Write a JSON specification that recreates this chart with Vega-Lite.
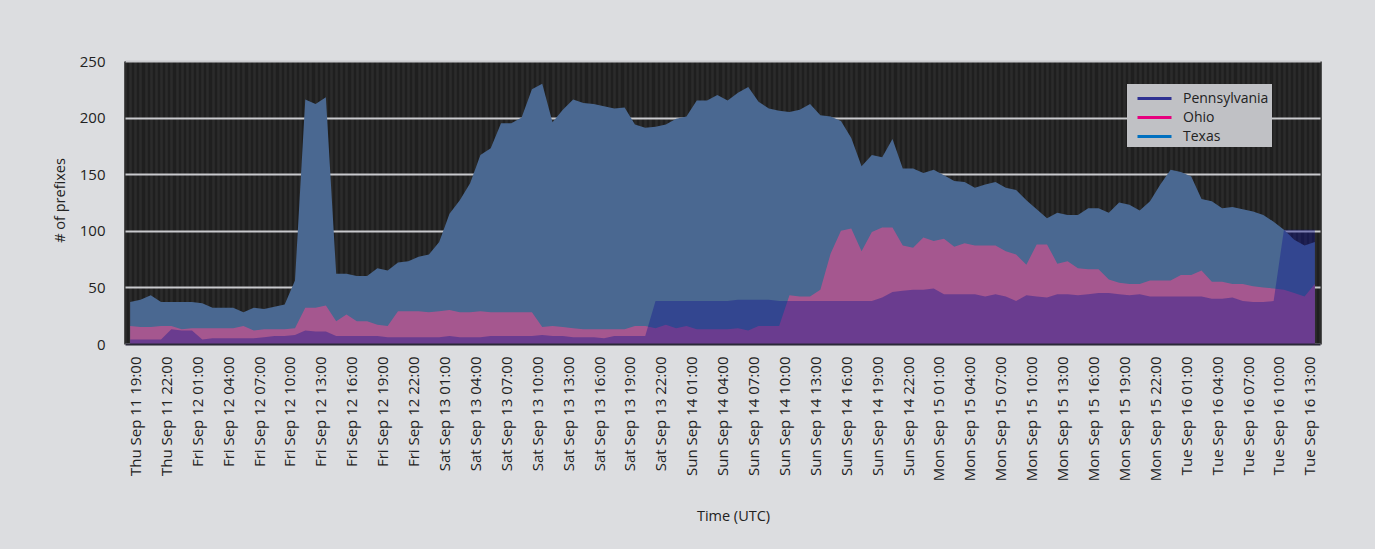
{
  "$schema": "https://vega.github.io/schema/vega-lite/v6.json",
  "width": 1195,
  "height": 283,
  "autosize": {"type": "none"},
  "padding": {"left": 125, "top": 61, "right": 55, "bottom": 205},
  "background": "#dcdde0",
  "config": {
    "view": {"fill": "#1f1f1f", "stroke": null},
    "font": "Open Sans",
    "axis": {"labelFont": "Open Sans", "titleFont": "Open Sans"},
    "axisY": {
      "tickCount": 5, "grid": true, "gridColor": "#c9cacd", "gridWidth": 2,
      "domain": false, "ticks": false,
      "labelPadding": 20, "labelFontSize": 15, "labelColor": "#222222",
      "titleFontSize": 14.5, "titleFontWeight": "normal", "titleColor": "#222222",
      "titleX": -65, "titleY": 139, "titleAngle": 270, "titleBaseline": "middle", "titleAlign": "center",
      "zindex": 1
    },
    "legend": {"labelFont": "Open Sans"}
  },
  "data": {"values": [
    {"t":"2014-09-11T18:00Z","Pennsylvania":4,"Ohio":16,"Texas":37},
    {"t":"2014-09-11T19:00Z","Pennsylvania":4,"Ohio":15,"Texas":39},
    {"t":"2014-09-11T20:00Z","Pennsylvania":4,"Ohio":15,"Texas":43},
    {"t":"2014-09-11T21:00Z","Pennsylvania":4,"Ohio":16,"Texas":37},
    {"t":"2014-09-11T22:00Z","Pennsylvania":13,"Ohio":16,"Texas":37},
    {"t":"2014-09-11T23:00Z","Pennsylvania":12,"Ohio":13,"Texas":37},
    {"t":"2014-09-12T00:00Z","Pennsylvania":12,"Ohio":14,"Texas":37},
    {"t":"2014-09-12T01:00Z","Pennsylvania":4,"Ohio":14,"Texas":36},
    {"t":"2014-09-12T02:00Z","Pennsylvania":5,"Ohio":14,"Texas":32},
    {"t":"2014-09-12T03:00Z","Pennsylvania":5,"Ohio":14,"Texas":32},
    {"t":"2014-09-12T04:00Z","Pennsylvania":5,"Ohio":14,"Texas":32},
    {"t":"2014-09-12T05:00Z","Pennsylvania":5,"Ohio":16,"Texas":28},
    {"t":"2014-09-12T06:00Z","Pennsylvania":5,"Ohio":12,"Texas":32},
    {"t":"2014-09-12T07:00Z","Pennsylvania":6,"Ohio":13,"Texas":31},
    {"t":"2014-09-12T08:00Z","Pennsylvania":7,"Ohio":13,"Texas":33},
    {"t":"2014-09-12T09:00Z","Pennsylvania":7,"Ohio":13,"Texas":35},
    {"t":"2014-09-12T10:00Z","Pennsylvania":8,"Ohio":14,"Texas":56},
    {"t":"2014-09-12T11:00Z","Pennsylvania":12,"Ohio":32,"Texas":216},
    {"t":"2014-09-12T12:00Z","Pennsylvania":11,"Ohio":32,"Texas":212},
    {"t":"2014-09-12T13:00Z","Pennsylvania":11,"Ohio":34,"Texas":218},
    {"t":"2014-09-12T14:00Z","Pennsylvania":7,"Ohio":20,"Texas":62},
    {"t":"2014-09-12T15:00Z","Pennsylvania":7,"Ohio":26,"Texas":62},
    {"t":"2014-09-12T16:00Z","Pennsylvania":7,"Ohio":20,"Texas":60},
    {"t":"2014-09-12T17:00Z","Pennsylvania":7,"Ohio":20,"Texas":60},
    {"t":"2014-09-12T18:00Z","Pennsylvania":7,"Ohio":17,"Texas":67},
    {"t":"2014-09-12T19:00Z","Pennsylvania":6,"Ohio":16,"Texas":65},
    {"t":"2014-09-12T20:00Z","Pennsylvania":6,"Ohio":29,"Texas":72},
    {"t":"2014-09-12T21:00Z","Pennsylvania":6,"Ohio":29,"Texas":73},
    {"t":"2014-09-12T22:00Z","Pennsylvania":6,"Ohio":29,"Texas":77},
    {"t":"2014-09-12T23:00Z","Pennsylvania":6,"Ohio":28,"Texas":79},
    {"t":"2014-09-13T00:00Z","Pennsylvania":6,"Ohio":29,"Texas":90},
    {"t":"2014-09-13T01:00Z","Pennsylvania":7,"Ohio":30,"Texas":115},
    {"t":"2014-09-13T02:00Z","Pennsylvania":6,"Ohio":28,"Texas":127},
    {"t":"2014-09-13T03:00Z","Pennsylvania":6,"Ohio":28,"Texas":142},
    {"t":"2014-09-13T04:00Z","Pennsylvania":6,"Ohio":29,"Texas":167},
    {"t":"2014-09-13T05:00Z","Pennsylvania":7,"Ohio":28,"Texas":173},
    {"t":"2014-09-13T06:00Z","Pennsylvania":7,"Ohio":28,"Texas":195},
    {"t":"2014-09-13T07:00Z","Pennsylvania":7,"Ohio":28,"Texas":195},
    {"t":"2014-09-13T08:00Z","Pennsylvania":7,"Ohio":28,"Texas":200},
    {"t":"2014-09-13T09:00Z","Pennsylvania":7,"Ohio":28,"Texas":225},
    {"t":"2014-09-13T10:00Z","Pennsylvania":8,"Ohio":15,"Texas":230},
    {"t":"2014-09-13T11:00Z","Pennsylvania":7,"Ohio":16,"Texas":196},
    {"t":"2014-09-13T12:00Z","Pennsylvania":7,"Ohio":15,"Texas":207},
    {"t":"2014-09-13T13:00Z","Pennsylvania":6,"Ohio":14,"Texas":216},
    {"t":"2014-09-13T14:00Z","Pennsylvania":6,"Ohio":13,"Texas":213},
    {"t":"2014-09-13T15:00Z","Pennsylvania":6,"Ohio":13,"Texas":212},
    {"t":"2014-09-13T16:00Z","Pennsylvania":5,"Ohio":13,"Texas":210},
    {"t":"2014-09-13T17:00Z","Pennsylvania":7,"Ohio":13,"Texas":208},
    {"t":"2014-09-13T18:00Z","Pennsylvania":7,"Ohio":13,"Texas":209},
    {"t":"2014-09-13T19:00Z","Pennsylvania":7,"Ohio":16,"Texas":194},
    {"t":"2014-09-13T20:00Z","Pennsylvania":7,"Ohio":16,"Texas":191},
    {"t":"2014-09-13T21:00Z","Pennsylvania":38,"Ohio":14,"Texas":192},
    {"t":"2014-09-13T22:00Z","Pennsylvania":38,"Ohio":17,"Texas":194},
    {"t":"2014-09-13T23:00Z","Pennsylvania":38,"Ohio":14,"Texas":199},
    {"t":"2014-09-14T00:00Z","Pennsylvania":38,"Ohio":16,"Texas":201},
    {"t":"2014-09-14T01:00Z","Pennsylvania":38,"Ohio":13,"Texas":215},
    {"t":"2014-09-14T02:00Z","Pennsylvania":38,"Ohio":13,"Texas":215},
    {"t":"2014-09-14T03:00Z","Pennsylvania":38,"Ohio":13,"Texas":220},
    {"t":"2014-09-14T04:00Z","Pennsylvania":38,"Ohio":13,"Texas":215},
    {"t":"2014-09-14T05:00Z","Pennsylvania":39,"Ohio":14,"Texas":222},
    {"t":"2014-09-14T06:00Z","Pennsylvania":39,"Ohio":12,"Texas":227},
    {"t":"2014-09-14T07:00Z","Pennsylvania":39,"Ohio":16,"Texas":214},
    {"t":"2014-09-14T08:00Z","Pennsylvania":39,"Ohio":16,"Texas":208},
    {"t":"2014-09-14T09:00Z","Pennsylvania":38,"Ohio":16,"Texas":206},
    {"t":"2014-09-14T10:00Z","Pennsylvania":38,"Ohio":43,"Texas":205},
    {"t":"2014-09-14T11:00Z","Pennsylvania":38,"Ohio":42,"Texas":207},
    {"t":"2014-09-14T12:00Z","Pennsylvania":38,"Ohio":42,"Texas":212},
    {"t":"2014-09-14T13:00Z","Pennsylvania":38,"Ohio":48,"Texas":202},
    {"t":"2014-09-14T14:00Z","Pennsylvania":38,"Ohio":80,"Texas":201},
    {"t":"2014-09-14T15:00Z","Pennsylvania":38,"Ohio":100,"Texas":197},
    {"t":"2014-09-14T16:00Z","Pennsylvania":38,"Ohio":102,"Texas":182},
    {"t":"2014-09-14T17:00Z","Pennsylvania":38,"Ohio":82,"Texas":157},
    {"t":"2014-09-14T18:00Z","Pennsylvania":38,"Ohio":99,"Texas":167},
    {"t":"2014-09-14T19:00Z","Pennsylvania":41,"Ohio":103,"Texas":165},
    {"t":"2014-09-14T20:00Z","Pennsylvania":46,"Ohio":103,"Texas":181},
    {"t":"2014-09-14T21:00Z","Pennsylvania":47,"Ohio":87,"Texas":155},
    {"t":"2014-09-14T22:00Z","Pennsylvania":48,"Ohio":85,"Texas":155},
    {"t":"2014-09-14T23:00Z","Pennsylvania":48,"Ohio":94,"Texas":151},
    {"t":"2014-09-15T00:00Z","Pennsylvania":49,"Ohio":91,"Texas":154},
    {"t":"2014-09-15T01:00Z","Pennsylvania":44,"Ohio":93,"Texas":149},
    {"t":"2014-09-15T02:00Z","Pennsylvania":44,"Ohio":86,"Texas":144},
    {"t":"2014-09-15T03:00Z","Pennsylvania":44,"Ohio":89,"Texas":143},
    {"t":"2014-09-15T04:00Z","Pennsylvania":44,"Ohio":87,"Texas":138},
    {"t":"2014-09-15T05:00Z","Pennsylvania":42,"Ohio":87,"Texas":141},
    {"t":"2014-09-15T06:00Z","Pennsylvania":44,"Ohio":87,"Texas":143},
    {"t":"2014-09-15T07:00Z","Pennsylvania":42,"Ohio":82,"Texas":138},
    {"t":"2014-09-15T08:00Z","Pennsylvania":38,"Ohio":79,"Texas":136},
    {"t":"2014-09-15T09:00Z","Pennsylvania":43,"Ohio":70,"Texas":127},
    {"t":"2014-09-15T10:00Z","Pennsylvania":42,"Ohio":88,"Texas":119},
    {"t":"2014-09-15T11:00Z","Pennsylvania":41,"Ohio":88,"Texas":111},
    {"t":"2014-09-15T12:00Z","Pennsylvania":44,"Ohio":71,"Texas":116},
    {"t":"2014-09-15T13:00Z","Pennsylvania":44,"Ohio":73,"Texas":114},
    {"t":"2014-09-15T14:00Z","Pennsylvania":43,"Ohio":67,"Texas":114},
    {"t":"2014-09-15T15:00Z","Pennsylvania":44,"Ohio":66,"Texas":120},
    {"t":"2014-09-15T16:00Z","Pennsylvania":45,"Ohio":66,"Texas":120},
    {"t":"2014-09-15T17:00Z","Pennsylvania":45,"Ohio":57,"Texas":116},
    {"t":"2014-09-15T18:00Z","Pennsylvania":44,"Ohio":54,"Texas":125},
    {"t":"2014-09-15T19:00Z","Pennsylvania":43,"Ohio":53,"Texas":123},
    {"t":"2014-09-15T20:00Z","Pennsylvania":44,"Ohio":53,"Texas":118},
    {"t":"2014-09-15T21:00Z","Pennsylvania":42,"Ohio":56,"Texas":126},
    {"t":"2014-09-15T22:00Z","Pennsylvania":42,"Ohio":56,"Texas":141},
    {"t":"2014-09-15T23:00Z","Pennsylvania":42,"Ohio":56,"Texas":154},
    {"t":"2014-09-16T00:00Z","Pennsylvania":42,"Ohio":61,"Texas":152},
    {"t":"2014-09-16T01:00Z","Pennsylvania":42,"Ohio":61,"Texas":148},
    {"t":"2014-09-16T02:00Z","Pennsylvania":42,"Ohio":65,"Texas":128},
    {"t":"2014-09-16T03:00Z","Pennsylvania":40,"Ohio":55,"Texas":126},
    {"t":"2014-09-16T04:00Z","Pennsylvania":40,"Ohio":55,"Texas":120},
    {"t":"2014-09-16T05:00Z","Pennsylvania":41,"Ohio":53,"Texas":121},
    {"t":"2014-09-16T06:00Z","Pennsylvania":38,"Ohio":53,"Texas":119},
    {"t":"2014-09-16T07:00Z","Pennsylvania":37,"Ohio":51,"Texas":117},
    {"t":"2014-09-16T08:00Z","Pennsylvania":37,"Ohio":50,"Texas":114},
    {"t":"2014-09-16T09:00Z","Pennsylvania":38,"Ohio":49,"Texas":108},
    {"t":"2014-09-16T10:00Z","Pennsylvania":101,"Ohio":48,"Texas":101},
    {"t":"2014-09-16T11:00Z","Pennsylvania":101,"Ohio":45,"Texas":92},
    {"t":"2014-09-16T12:00Z","Pennsylvania":101,"Ohio":42,"Texas":87},
    {"t":"2014-09-16T13:00Z","Pennsylvania":101,"Ohio":53,"Texas":90}
  ]},
  "resolve": {"axis": {"x": "independent"}},
  "layer": [
    {
      "mark": {"type": "area", "fill": "#4a6891", "opacity": 1, "interpolate": "linear"},
      "encoding": {
        "x": {
          "field": "t", "type": "temporal",
          "scale": {"type": "utc", "domain": [
            {"year": 2014, "month": 9, "date": 11, "hours": 17, "minutes": 30, "utc": true},
            {"year": 2014, "month": 9, "date": 16, "hours": 13, "minutes": 30, "utc": true}
          ]},
          "axis": {
            "values": [
              {"year":2014,"month":9,"date":11,"hours":19,"utc":true},
              {"year":2014,"month":9,"date":11,"hours":22,"utc":true},
              {"year":2014,"month":9,"date":12,"hours":1,"utc":true},
              {"year":2014,"month":9,"date":12,"hours":4,"utc":true},
              {"year":2014,"month":9,"date":12,"hours":7,"utc":true},
              {"year":2014,"month":9,"date":12,"hours":10,"utc":true},
              {"year":2014,"month":9,"date":12,"hours":13,"utc":true},
              {"year":2014,"month":9,"date":12,"hours":16,"utc":true},
              {"year":2014,"month":9,"date":12,"hours":19,"utc":true},
              {"year":2014,"month":9,"date":12,"hours":22,"utc":true},
              {"year":2014,"month":9,"date":13,"hours":1,"utc":true},
              {"year":2014,"month":9,"date":13,"hours":4,"utc":true},
              {"year":2014,"month":9,"date":13,"hours":7,"utc":true},
              {"year":2014,"month":9,"date":13,"hours":10,"utc":true},
              {"year":2014,"month":9,"date":13,"hours":13,"utc":true},
              {"year":2014,"month":9,"date":13,"hours":16,"utc":true},
              {"year":2014,"month":9,"date":13,"hours":19,"utc":true},
              {"year":2014,"month":9,"date":13,"hours":22,"utc":true},
              {"year":2014,"month":9,"date":14,"hours":1,"utc":true},
              {"year":2014,"month":9,"date":14,"hours":4,"utc":true},
              {"year":2014,"month":9,"date":14,"hours":7,"utc":true},
              {"year":2014,"month":9,"date":14,"hours":10,"utc":true},
              {"year":2014,"month":9,"date":14,"hours":13,"utc":true},
              {"year":2014,"month":9,"date":14,"hours":16,"utc":true},
              {"year":2014,"month":9,"date":14,"hours":19,"utc":true},
              {"year":2014,"month":9,"date":14,"hours":22,"utc":true},
              {"year":2014,"month":9,"date":15,"hours":1,"utc":true},
              {"year":2014,"month":9,"date":15,"hours":4,"utc":true},
              {"year":2014,"month":9,"date":15,"hours":7,"utc":true},
              {"year":2014,"month":9,"date":15,"hours":10,"utc":true},
              {"year":2014,"month":9,"date":15,"hours":13,"utc":true},
              {"year":2014,"month":9,"date":15,"hours":16,"utc":true},
              {"year":2014,"month":9,"date":15,"hours":19,"utc":true},
              {"year":2014,"month":9,"date":15,"hours":22,"utc":true},
              {"year":2014,"month":9,"date":16,"hours":1,"utc":true},
              {"year":2014,"month":9,"date":16,"hours":4,"utc":true},
              {"year":2014,"month":9,"date":16,"hours":7,"utc":true},
              {"year":2014,"month":9,"date":16,"hours":10,"utc":true},
              {"year":2014,"month":9,"date":16,"hours":13,"utc":true}
            ],
            "format": "%a %b %d %H:%M",
            "labelAngle": 270, "labelAlign": "right", "labelBaseline": "middle",
            "labelPadding": 12, "labelOffset": -5, "labelFontSize": 15, "labelColor": "#222222",
            "labelOverlap": false, "labelFlush": false,
            "grid": false, "ticks": false, "domain": true, "domainColor": "#2a2838", "domainWidth": 2,
            "title": "Time (UTC)", "titleFontSize": 14.5, "titleFontWeight": "normal", "titleColor": "#222222",
            "titleX": 608, "titleY": 172, "titleBaseline": "middle", "titleAlign": "center",
            "zindex": 2
          }
        },
        "y": {
          "field": "Texas", "type": "quantitative", "title": "# of prefixes",
          "scale": {"domain": [0, 250], "nice": false}
        }
      }
    },
    {
      "mark": {"type": "area", "fill": "#e24c8d", "opacity": 0.6, "interpolate": "linear"},
      "encoding": {
        "x": {
          "field": "t", "type": "temporal",
          "axis": {
            "orient": "top", "grid": true, "gridColor": "#2b2b2b", "gridWidth": 2.6,
            "labels": false, "ticks": false, "domain": false, "title": null,
            "tickCount": 232, "zindex": 0
          }
        },
        "y": {"field": "Ohio", "type": "quantitative", "title": "# of prefixes"}
      }
    },
    {
      "mark": {"type": "area", "fill": "#12148e", "opacity": 0.4, "interpolate": "linear"},
      "encoding": {
        "x": {"field": "t", "type": "temporal", "axis": null},
        "y": {"field": "Pennsylvania", "type": "quantitative", "title": "# of prefixes"}
      }
    },
    {
      "transform": [{"fold": ["Pennsylvania", "Ohio", "Texas"], "as": ["state", "n"]}],
      "mark": {"type": "line", "opacity": 0},
      "encoding": {
        "x": {"field": "t", "type": "temporal", "axis": null},
        "y": {"field": "n", "type": "quantitative", "title": "# of prefixes"},
        "color": {
          "field": "state", "type": "nominal",
          "scale": {"domain": ["Pennsylvania", "Ohio", "Texas"], "range": ["#2e3192", "#e6007e", "#0070c0"]},
          "legend": {
            "orient": "none", "legendX": 1002, "legendY": 23, "title": null,
            "fillColor": "#c0c1c5", "padding": 3,
            "symbolType": "M-1.7,0H1.7", "symbolSize": 400, "symbolStrokeWidth": 3, "symbolOpacity": 1,
            "symbolOffset": 13, "labelOffset": 17, "rowPadding": 0,
            "labelFontSize": 14, "labelColor": "#222222", "labelFont": "Open Sans"
          }
        }
      }
    }
  ]
}
